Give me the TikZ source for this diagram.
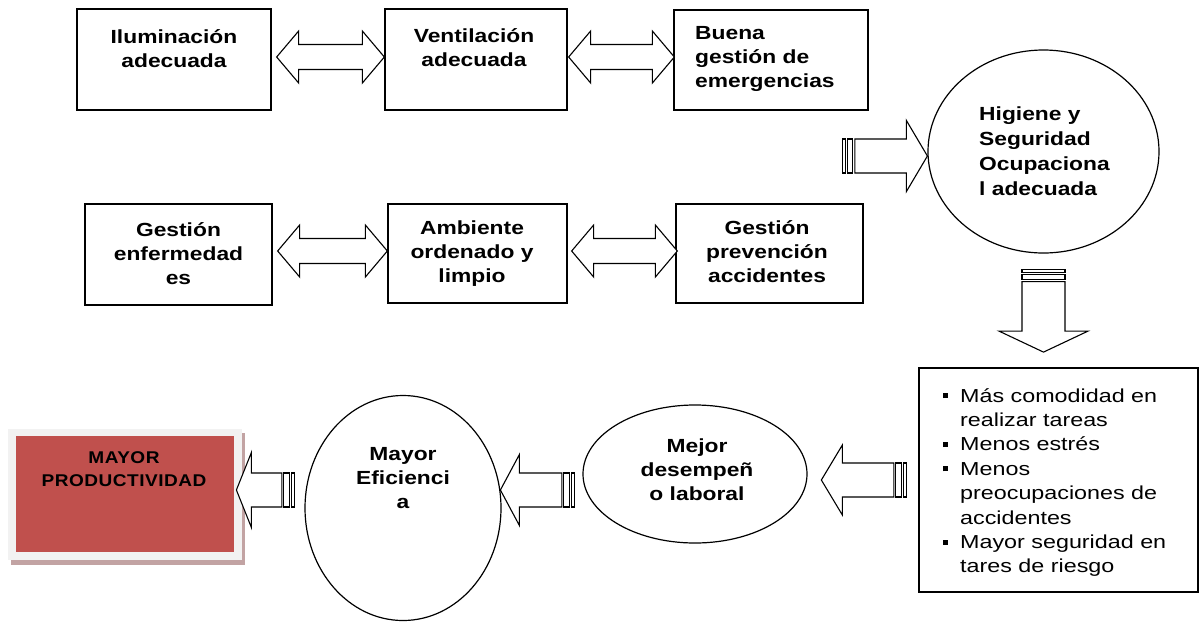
\documentclass[tikz,border=0pt]{standalone}
\usepackage{fontspec}
\setmainfont{Liberation Sans}
\newfontfamily\boxfont[FakeStretch=1.2]{Liberation Sans}
\newfontfamily\listfont[FakeStretch=1.24]{Liberation Sans}
\newfontfamily\prodfont[FakeStretch=1.12,LetterSpace=3]{Liberation Sans}
\usetikzlibrary{shapes.geometric,calc}
\definecolor{prodred}{HTML}{C0504D}
\definecolor{prodframe}{HTML}{F2F2F2}
\definecolor{prodshadow}{HTML}{C2A3A3}
\newcommand\blt{\makebox[17pt][l]{\raisebox{4pt}{\rule{5pt}{5pt}}}}
\newcommand\ind{\hspace*{17pt}}
\newcommand\dblarrow[2]{%
  \draw[barrow] (#1) -- ++(22,-26) -- ++(0,13.5) -- ($(#2)+(-22,-12.5)$) -- ++(0,-13.5) -- (#2)
    -- ++(-22,26) -- ++(0,-13.5) -- ($(#1)+(22,12.5)$) -- ++(0,13.5) -- cycle;}
\newcommand\striparrow[6]{%
  \begin{scope}[shift={(#1)}, rotate=#2]
    \draw[barrow] (0,-#5) rectangle (3,#5);
    \draw[barrow] (5,-#5) rectangle (10.5,#5);
    \draw[barrow] (12.5,-#5) -- (#3-#4,-#5) -- (#3-#4,-#6) -- (#3,0) -- (#3-#4,#6) -- (#3-#4,#5) -- (12.5,#5) -- cycle;
  \end{scope}}
\begin{document}
\begin{tikzpicture}[x=1pt,y=-1pt,
  boxn/.style={draw, rectangle, inner sep=0pt, line width=1.3pt},
  ell/.style={draw, ellipse, inner sep=0pt, line width=1.2pt},
  barrow/.style={draw, fill=white, line width=1.1pt, line join=miter},
  txt/.style={inner sep=0pt, anchor=north, align=center, font=\boxfont\bfseries\fontsize{19}{24}\selectfont},
  txtl/.style={txt, anchor=north west, align=left}]
\useasboundingbox (0,0) rectangle (1202,622);

% boxes
\node[boxn, minimum width=194pt, minimum height=101pt] (b1) at (174,59.5) {};
\node[boxn, minimum width=182pt, minimum height=101pt] (b2) at (476,59.5) {};
\node[boxn, minimum width=194pt, minimum height=100pt] (b3) at (771,60) {};
\node[boxn, minimum width=187pt, minimum height=101pt] (b4) at (178.5,254.5) {};
\node[boxn, minimum width=179pt, minimum height=99pt] (b5) at (477.5,253.5) {};
\node[boxn, minimum width=187pt, minimum height=99pt] (b6) at (769.5,253.5) {};
\node[boxn, minimum width=279pt, minimum height=224pt] (bl) at (1058.5,480) {};

% ellipses
\node[ell, minimum width=231pt, minimum height=203pt] (e1) at (1043.5,151.5) {};
\node[ell, minimum width=224pt, minimum height=138pt] (e2) at (695,474) {};
\node[ell, minimum width=196pt, minimum height=225pt] (e3) at (403,508) {};

% productivity box
\fill[prodshadow] (11,433) rectangle (245,565);
\fill[prodframe] (8,429) rectangle (242,560);
\node[fill=prodred, inner sep=0pt, minimum width=218pt, minimum height=116pt] (p) at (125,494) {};

% texts
\node[txt] (t1) at (174,26.2) {\strut Iluminación\\adecuada};
\node[txt] (t2) at (474,25.2) {\strut Ventilación\\adecuada};
\node[txtl] (t3) at (695,22.2) {\strut Buena\\gestión de\\emergencias};
\node[txt] (t4) at (178.5,219.2) {\strut Gestión\\enfermedad\\es};
\node[txt] (t5) at (472,217.2) {\strut Ambiente\\ordenado y\\limpio};
\node[txt] (t6) at (767,217.2) {\strut Gestión\\prevención\\accidentes};
\node[txtl, font=\boxfont\bfseries\fontsize{19}{25}\selectfont] (th) at (979,103) {\strut Higiene y\\Seguridad\\Ocupaciona\\l adecuada};
\node[txt] (tm) at (697,435.2) {\strut Mejor\\desempeñ\\o laboral};
\node[txt] (te) at (403,443.2) {\strut Mayor\\Eficienci\\a};
\node[txt, font=\prodfont\bfseries\fontsize{17}{23}\selectfont] (tp) at (124,446.9) {\strut MAYOR\\PRODUCTIVIDAD};
\node[inner sep=0pt, anchor=north west, align=left, font=\listfont\fontsize{18.8}{24.4}\selectfont] (tl) at (943,384.9)
  {\strut\blt Más comodidad en\\\ind realizar tareas\\\blt Menos estrés\\\blt Menos\\\ind preocupaciones de\\\ind accidentes\\\blt Mayor seguridad en\\\ind tares de riesgo};

% double arrows
\coordinate (a1l) at ($(b1.east)+(5,-2.5)$);
\coordinate (a1r) at ($(b2.west)+(0,-2.5)$);
\dblarrow{a1l}{a1r}
\coordinate (a2l) at ($(b2.east)+(1,-2.5)$);
\coordinate (a2r) at ($(b3.west)+(1,-3)$);
\dblarrow{a2l}{a2r}
\coordinate (a3l) at ($(b4.east)+(5,-3.5)$);
\coordinate (a3r) at ($(b5.west)+(0,-2.5)$);
\dblarrow{a3l}{a3r}
\coordinate (a4l) at ($(b5.east)+(4,-2.5)$);
\coordinate (a4r) at ($(b6.west)+(2,-2.5)$);
\dblarrow{a4l}{a4r}

% striped arrows
\coordinate (s1) at ($(e1.west)+(-85,4.5)$);
\striparrow{s1}{0}{85}{21}{17}{35.5}
\coordinate (s2) at ($(e1.south)+(0,15.5)$);
\striparrow{s2}{-90}{83}{21}{21.5}{44.5}
\coordinate (s3) at ($(bl.west)+(-12,0)$);
\striparrow{s3}{180}{85}{21}{17}{35}
\coordinate (s4) at ($(e2.west)+(-8,16)$);
\striparrow{s4}{180}{74}{19}{17}{35.5}
\coordinate (s5) at ($(e3.west)+(-10,-18)$);
\striparrow{s5}{180}{58}{15}{17}{37.5}
\end{tikzpicture}
\end{document}
